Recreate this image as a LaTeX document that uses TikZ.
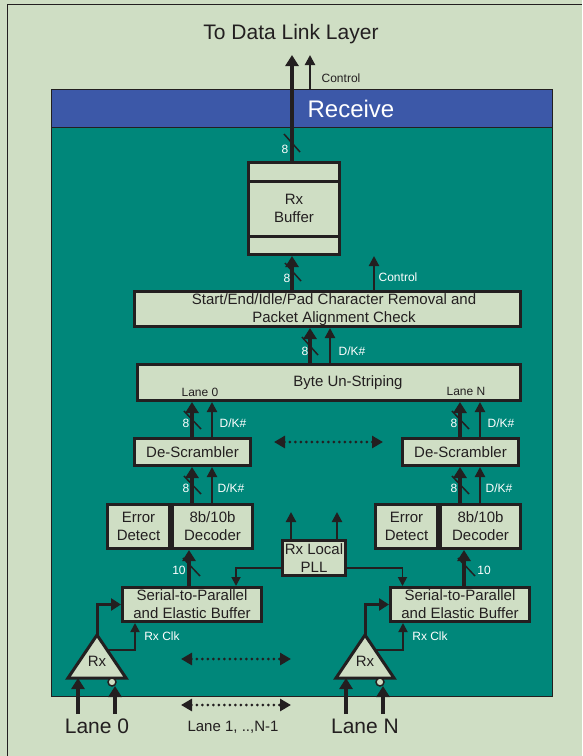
\documentclass[tikz,border=0pt]{standalone}
\usepackage{fontspec}
\setmainfont{Liberation Sans}
\usetikzlibrary{arrows.meta, calc}

\definecolor{paleGreen}{RGB}{207,222,196}
\definecolor{rxTeal}{RGB}{0,135,122}
\definecolor{rxBlue}{RGB}{60,88,168}
\definecolor{inkGrey}{RGB}{35,31,32}

\begin{document}
\begin{tikzpicture}[
    x=1pt, y=-1pt,
    blk/.style={draw=inkGrey, fill=paleGreen, line width=3pt, inner sep=0pt,
                text=inkGrey, font=\fontsize{15}{18}\selectfont, align=center},
    boxtxt/.style={text=inkGrey, font=\fontsize{15}{18}\selectfont, align=center},
    bus/.style={-{Triangle[width=13pt,length=11pt]}, line width=4pt, draw=inkGrey},
    sig/.style={-{Triangle[width=10pt,length=10pt]}, line width=2.2pt, draw=inkGrey},
    feed/.style={-{Triangle[width=12pt,length=10pt]}, line width=3pt, draw=inkGrey},
    clk/.style={-{Triangle[width=9pt,length=9pt]}, line width=1.8pt, draw=inkGrey},
    dots/.style={{Triangle[width=12pt,length=11pt]}-{Triangle[width=12pt,length=11pt]},
                 line width=3pt, dash pattern=on 0pt off 5.5pt, line cap=round, draw=inkGrey},
    wlbl/.style={text=white, font=\fontsize{12}{14}\selectfont},
    dlbl/.style={text=inkGrey, font=\fontsize{12}{14}\selectfont},
    slashmark/.style={line width=1.5pt, draw=inkGrey},
]

% ---- page, frame and receive panel ----
\useasboundingbox (0,0) rectangle (582,756);
\fill[paleGreen] (0,0) rectangle (582,756);
\draw[inkGrey, line width=1pt] (7,756) -- (7,4) -- (582,4);
\fill[rxTeal, draw=inkGrey, line width=1pt] (51,89) rectangle (552,696);
\fill[rxBlue, draw=inkGrey, line width=1pt] (51,89) rectangle (552,127);
\node[text=white, font=\fontsize{24}{28}\selectfont] (rcv) at (351,109) {Receive};

% ---- to data link layer ----
\node[text=inkGrey, font=\fontsize{21}{24}\selectfont] (dll) at (291,34) {To Data Link Layer};
\coordinate (dllbus) at (292,55);
\coordinate (dllctl) at (310,55);
\coordinate (hdtop)  at (310,89);
\node[dlbl] (ctltop) at (341,78) {Control};

% ---- rx buffer ----
\node[blk, minimum width=91, minimum height=92] (rxbuf) at (294,208.5) {Rx\\Buffer};
\draw[inkGrey, line width=3pt] ($(rxbuf.north west)+(0,20)$) -- ($(rxbuf.north east)+(0,20)$);
\draw[inkGrey, line width=3pt] ($(rxbuf.south west)+(0,-20)$) -- ($(rxbuf.south east)+(0,-20)$);

\draw[bus] (rxbuf.north -| dllbus) -- (dllbus);
\draw[sig] (hdtop) -- (dllctl);

% ---- character removal ----
\node[blk, minimum width=386, minimum height=35] (strip) at (327.5,309) {};
\node[boxtxt] (striptxt) at (334,310)
  {Start/End/Idle/Pad Character Removal and\\Packet Alignment Check};
\coordinate (ctlbuf) at (374,256);
\draw[bus] (strip.north -| dllbus) -- (rxbuf.south -| dllbus);
\draw[sig] (strip.north -| ctlbuf) -- (ctlbuf);
\node[wlbl] (ctlmid) at (398,277) {Control};

% ---- byte un-striping ----
\node[blk, minimum width=383, minimum height=36] (unstripe) at (329,382.5) {};
\node[boxtxt] (unstripetxt) at (348,383) {Byte Un-Striping};
\node[dlbl] (lane0lbl) at (200,392) {Lane 0};
\node[dlbl] (laneNlbl) at (466,391) {Lane N};
\coordinate (mbus) at (310,0);
\coordinate (mdk)  at (330,0);
\draw[bus] (unstripe.north -| mbus) -- (strip.south -| mbus);
\draw[sig] (unstripe.north -| mdk) -- (strip.south -| mdk);
\node[wlbl] (dkmid) at (352,351) {D/K\#};

% ---- bus width marks ----
\foreach \sx/\sy in {292/143, 293/272, 310/346}
  \draw[slashmark] (\sx-8,\sy-9) -- (\sx+8,\sy+9);
\foreach \lx/\ly [count=\i] in {285/149, 287/278, 305/351}
  \node[wlbl] (eight\i) at (\lx,\ly) {8};

% ---- lanes 0 and N ----
\foreach \ln/\dx/\tx/\tl in {0/0/189/179, N/268/196/216} {
  \begin{scope}[xshift=\dx]
    \node[blk, minimum width=116, minimum height=27] (descr\ln) at (192.5,452) {De-Scrambler};
    \node[blk, minimum width=62, minimum height=44] (err\ln) at (138.5,526.5) {Error\\Detect};
    \node[blk, minimum width=80, minimum height=44] (dec\ln) at (212.5,526.5) {8b/10b\\Decoder};
    \node[blk, minimum width=139, minimum height=34] (sp\ln) at (192,604.5)
      {Serial-to-Parallel\\and Elastic Buffer};
    \coordinate (bus\ln) at (192,0);
    \coordinate (dk\ln)  at (212,0);
    \coordinate (ten\ln) at (\tx,0);

    \draw[bus] (descr\ln.north -| bus\ln) -- (unstripe.south -| bus\ln);
    \draw[sig] (descr\ln.north -| dk\ln) -- (unstripe.south -| dk\ln);
    \draw[bus] (dec\ln.north -| bus\ln) -- (descr\ln.south -| bus\ln);
    \draw[sig] (dec\ln.north -| dk\ln) -- (descr\ln.south -| dk\ln);
    \draw[bus] (sp\ln.north -| ten\ln) -- (dec\ln.south -| ten\ln);

    \draw[slashmark] (184,411) -- (201,429);
    \draw[slashmark] (184,476) -- (201,494);
    \draw[slashmark] (\tx-6,558) -- (\tx+11,576);
    \node[wlbl] (eightup\ln) at (186,423) {8};
    \node[wlbl] (dkup\ln)    at (233,423) {D/K\#};
    \node[wlbl] (eightlo\ln) at (186,488) {8};
    \node[wlbl] (dklo\ln)    at (231,488) {D/K\#};
    \node[wlbl] (tenlbl\ln)  at (\tl,570) {10};

    % receiver triangle
    \coordinate (apex\ln) at (97,635);
    \coordinate (clk\ln)  at (107,650);
    \draw[inkGrey, fill=paleGreen, line width=3pt, line join=miter]
      (apex\ln) -- (126,678) -- (68,678) -- cycle;
    \node[boxtxt] (rx\ln) at (97,661) {Rx};
    \draw[feed] (apex\ln) |- (sp\ln.west);
    \draw[clk] (clk\ln) -| ([xshift=-57pt]sp\ln.south);
    \node[wlbl] (rxclk\ln) at (162,636) {Rx Clk};

    % lane inputs
    \coordinate (inp\ln) at (78,714);
    \coordinate (inm\ln) at (115,714);
    \draw[bus] (inp\ln) -- (inp\ln |- 0,678);
    \draw[bus] (inm\ln) -- (inm\ln |- 0,686);
    \draw[inkGrey, fill=paleGreen, line width=1.5pt] (112,682) circle (4);
    \node[text=inkGrey, font=\fontsize{21}{24}\selectfont] (lane\ln) at (97,726) {Lane \ln};
  \end{scope}
}

% ---- rx local pll ----
\node[blk, minimum width=63, minimum height=35] (pll) at (314,558) {Rx Local\\PLL};
\coordinate (pllup1) at (291,512);
\coordinate (pllup2) at (337,512);
\draw[sig] (pll.north -| pllup1) -- (pllup1);
\draw[sig] (pll.north -| pllup2) -- (pllup2);
\draw[clk] ([yshift=-10pt]pll.west) -| ([xshift=44pt]sp0.north);
\draw[clk] ([yshift=-10pt]pll.east) -| ([xshift=-57.5pt]spN.north);

% ---- lanes in between ----
\coordinate (dsa) at (274,442);
\coordinate (dsb) at (383,442);
\coordinate (rxa) at (181,659);
\coordinate (rxb) at (291,659);
\coordinate (lna) at (181,705);
\coordinate (lnb) at (291,705);
\draw[dots] (dsa) -- (dsb);
\draw[dots] (rxa) -- (rxb);
\draw[dots] (lna) -- (lnb);
\node[text=inkGrey, font=\fontsize{15}{18}\selectfont] (lanemid) at (233,727) {Lane 1, ..,N-1};

\end{tikzpicture}
\end{document}
